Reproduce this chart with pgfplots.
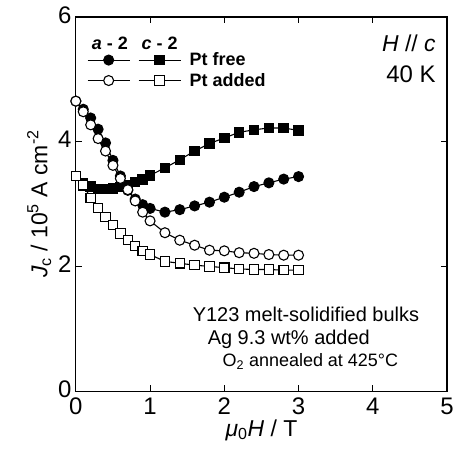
\documentclass[border=0pt]{standalone}
\usepackage{fontspec}
\setmainfont{Liberation Sans}
\usepackage{pgfplots}
\pgfplotsset{compat=1.18}
\begin{document}
\begin{tikzpicture}
\begin{axis}[
  name=ax,
  scale only axis, width=372bp, height=375bp,
  xmin=0, xmax=5, ymin=0, ymax=6,
  xtick={0,1,2,3,4,5}, ytick={0,2,4,6},
  tick align=inside, major tick length=6bp,
  every tick/.style={line width=1bp, black},
  axis line style={line width=1.2bp},
  /pgf/number format/assume math mode=true,
  ticklabel style={font=\fontsize{24bp}{28bp}\selectfont},
  xticklabel style={yshift=-3bp},
  yticklabel style={xshift=-1bp, yshift=2bp},
  xlabel={\textit{μ}\textsubscript{0}\textit{H} / T},
  ylabel={\textit{J}\textsubscript{c} / 10\textsuperscript{5} A cm\textsuperscript{-2}},
  label style={font=\fontsize{23bp}{27bp}\selectfont},
  xlabel style={yshift=2bp},
  legend style={draw=none, fill=none, at={(rel axis cs:0.03,0.91)}, anchor=north west,
    font=\bfseries\fontsize{18bp}{20bp}\selectfont, inner sep=0pt, row sep=2bp},
  legend cell align=left,
]
\addplot[black, line width=1.1bp, mark=square*, mark size=4.7bp, mark options={fill=black, solid}, forget plot] coordinates {
(0,3.45) (0.1,3.33) (0.2,3.28) (0.3,3.24) (0.4,3.24) (0.5,3.25) (0.6,3.27) (0.7,3.30) (0.8,3.35) (0.9,3.39) (1.0,3.46)
(1.2,3.58) (1.4,3.71) (1.6,3.85) (1.8,3.97) (2.0,4.06) (2.2,4.15) (2.4,4.19) (2.6,4.22) (2.8,4.22) (3.0,4.18)};
\addplot[black, line width=1.1bp, mark=*, mark size=5bp, mark options={fill=black, solid}, forget plot] coordinates {
(0,4.65) (0.1,4.52) (0.2,4.38) (0.3,4.20) (0.4,3.98) (0.5,3.70) (0.6,3.45) (0.7,3.22) (0.8,3.08) (0.9,2.99) (1.0,2.93)
(1.2,2.87) (1.4,2.91) (1.6,2.97) (1.8,3.03) (2.0,3.11) (2.2,3.19) (2.4,3.28) (2.6,3.34) (2.8,3.40) (3.0,3.44)};
\addplot[black, line width=1.1bp, mark=square*, mark size=4.7bp, mark options={fill=white, solid}, forget plot] coordinates {
(0,3.45) (0.1,3.30) (0.2,3.10) (0.3,2.94) (0.4,2.79) (0.5,2.66) (0.6,2.53) (0.7,2.42) (0.8,2.33) (0.9,2.25) (1.0,2.19)
(1.2,2.08) (1.4,2.05) (1.6,2.02) (1.8,2.00) (2.0,1.98) (2.2,1.96) (2.4,1.95) (2.6,1.95) (2.8,1.94) (3.0,1.94)};
\addplot[black, line width=1.1bp, mark=*, mark size=5bp, mark options={fill=white, solid}, forget plot] coordinates {
(0,4.65) (0.1,4.48) (0.2,4.27) (0.3,4.05) (0.4,3.85) (0.5,3.62) (0.6,3.41) (0.7,3.23) (0.8,3.05) (0.9,2.87) (1.0,2.73)
(1.2,2.54) (1.4,2.42) (1.6,2.34) (1.8,2.26) (2.0,2.25) (2.2,2.22) (2.4,2.21) (2.6,2.19) (2.8,2.18) (3.0,2.18)};
\addlegendimage{legend image code/.code={
  \draw[black, line width=1.1bp, mark=*, mark size=5bp, mark options={fill=black}, mark repeat=2, mark phase=2]
    plot coordinates {(0bp,0bp) (21bp,0bp) (42bp,0bp)};
  \draw[black, line width=1.1bp, mark=square*, mark size=4.7bp, mark options={fill=black}, mark repeat=2, mark phase=2]
    plot coordinates {(51bp,0bp) (72bp,0bp) (93bp,0bp)};
  \path (100bp,0bp);
}}
\addlegendentry{Pt free}
\addlegendimage{legend image code/.code={
  \draw[black, line width=1.1bp, mark=*, mark size=5bp, mark options={fill=white}, mark repeat=2, mark phase=2]
    plot coordinates {(0bp,0bp) (21bp,0bp) (42bp,0bp)};
  \draw[black, line width=1.1bp, mark=square*, mark size=4.7bp, mark options={fill=white}, mark repeat=2, mark phase=2]
    plot coordinates {(51bp,0bp) (72bp,0bp) (93bp,0bp)};
  \path (100bp,0bp);
}}
\addlegendentry{Pt added}
\node[anchor=base west, inner sep=0pt, font=\bfseries\fontsize{18bp}{20bp}\selectfont] at (rel axis cs:0.043,0.912) {\textit{a} - 2};
\node[anchor=base west, inner sep=0pt, font=\bfseries\fontsize{18bp}{20bp}\selectfont] at (rel axis cs:0.177,0.912) {\textit{c} - 2};
\node[anchor=base east, inner sep=0pt, font=\fontsize{23bp}{27bp}\selectfont] at (rel axis cs:0.970,0.907) {\textit{H} // \textit{c}};
\node[anchor=base east, inner sep=0pt, font=\fontsize{24bp}{28bp}\selectfont] at (rel axis cs:0.970,0.824) {40 K};
\node[anchor=base west, inner sep=0pt, font=\fontsize{20bp}{24bp}\selectfont] at (rel axis cs:0.3145,0.187) {Y123 melt-solidified bulks};
\node[anchor=base west, inner sep=0pt, font=\fontsize{20bp}{24bp}\selectfont] at (rel axis cs:0.355,0.125) {Ag 9.3 wt\% added};
\node[anchor=base west, inner sep=0pt, font=\fontsize{18bp}{22bp}\selectfont] at (rel axis cs:0.395,0.0667) {O\textsubscript{2} annealed at 425°C};
\end{axis}
\path ([shift={(-76bp,-61bp)}]ax.south west) rectangle ([shift={(9bp,17bp)}]ax.north east);
\end{tikzpicture}
\end{document}
